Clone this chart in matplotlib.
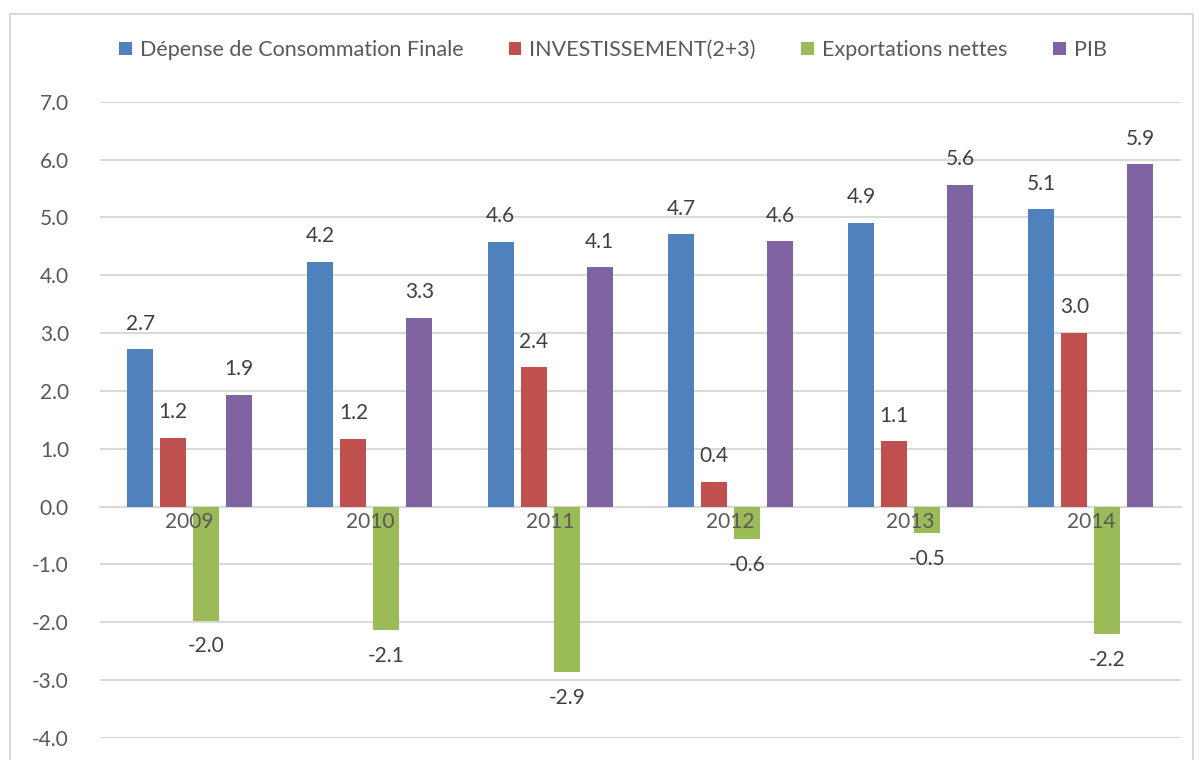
import numpy as np
import matplotlib.pyplot as plt
from matplotlib.patches import Rectangle

# ==============================================================================
# DATA
# ==============================================================================
years = ['2009', '2010', '2011', '2012', '2013', '2014']
series_names = ['Dépense de Consommation Finale', 'INVESTISSEMENT(2+3)',
                'Exportations nettes', 'PIB']
consommation = [2.72, 4.23, 4.58, 4.71, 4.91, 5.14]
investissement = [1.19, 1.17, 2.41, 0.43, 1.13, 3.00]
exportations = [-1.97, -2.13, -2.86, -0.56, -0.46, -2.21]
pib = [1.93, 3.27, 4.14, 4.59, 5.56, 5.92]
y_ticks = [-4.0, -3.0, -2.0, -1.0, 0.0, 1.0, 2.0, 3.0, 4.0, 5.0, 6.0, 7.0]

colors = ['#4F81BD', '#C0504D', '#9BBB59', '#8064A2']
text_col = '#595959'
label_col = '#404040'
grid_col = '#D9D9D9'

plt.rcParams['font.family'] = ['Lato', 'DejaVu Sans']

fig = plt.figure(figsize=(11.99, 7.6), dpi=100)
ax = fig.add_axes([0.083, 0.029, 0.902, 0.837])

# light border around chart area
fig.patches.append(Rectangle((10 / 1199, -0.01), 1183 / 1199, 1 - 14 / 760 + 0.01,
                             transform=fig.transFigure, fill=False,
                             edgecolor=grid_col, linewidth=1.5))

x = np.arange(len(years))
width = 0.144
step = 0.183
all_series = [consommation, investissement, exportations, pib]

for i, (vals, name, col) in enumerate(zip(all_series, series_names, colors)):
    pos = x + (i - 1.5) * step
    bars = ax.bar(pos, vals, width, color=col, label=name, zorder=3)
    for xp, v in zip(pos, vals):
        off = 18.5 if v >= 0 else -18.5
        ax.annotate(f'{v:.1f}', (xp, v), xytext=(0, off), textcoords='offset points',
                    ha='center', va='center', fontsize=15, color=label_col, zorder=6)

ax.set_ylim(-4, 7)
ax.set_xlim(-0.5, len(years) - 0.5)
ax.set_yticks(y_ticks)
ax.set_yticklabels([f'{t:.1f}' for t in y_ticks])
ax.set_xticks(x)
ax.set_xticklabels(years)
ax.grid(axis='y', color=grid_col, linewidth=1.5, zorder=0)
ax.set_axisbelow(True)
ax.xaxis.set_zorder(5)  # year labels drawn over the bars

for s in ['top', 'right', 'left']:
    ax.spines[s].set_visible(False)
ax.spines['bottom'].set_position(('data', 0))
ax.spines['bottom'].set_color(grid_col)
ax.spines['bottom'].set_linewidth(1.5)
ax.spines['bottom'].set_zorder(2)
ax.tick_params(axis='both', length=0, labelsize=15, labelcolor=text_col)
ax.tick_params(axis='y', pad=22)
ax.tick_params(axis='x', pad=4)

fig.legend(loc='center', bbox_to_anchor=(0.511, 1 - 50 / 760), ncol=4, frameon=False,
           fontsize=15.5, labelcolor=text_col, handlelength=0.6, handleheight=0.6,
           handletextpad=0.37, columnspacing=2.1)

fig.savefig('out.png', dpi=100)
